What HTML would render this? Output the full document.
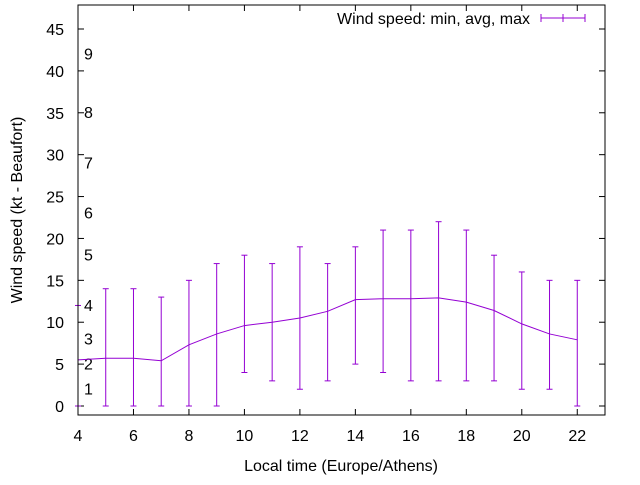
<!DOCTYPE html>
<html><head><meta charset="utf-8"><style>
body{margin:0;background:#fff;}
svg text{font-family:"Liberation Sans",sans-serif;font-size:16px;fill:#000;}
</style></head><body>
<svg id="chart" width="640" height="480">
<rect x="0" y="0" width="640" height="480" fill="#fff"/>
<g id="grid"></g>
<g id="marks"></g>
<rect x="78" y="5" width="527" height="410" fill="none" stroke="#000" stroke-width="1"/>
<text x="22" y="210" text-anchor="middle" transform="rotate(-90 22 210)">Wind speed (kt - Beaufort)</text>
<text x="341" y="471" text-anchor="middle">Local time (Europe/Athens)</text>
<g>
<text x="530" y="24" text-anchor="end">Wind speed: min, avg, max</text>
<line x1="541" y1="18" x2="585" y2="18" stroke="#9400d3"/>
<line x1="541" y1="14" x2="541" y2="22" stroke="#9400d3"/>
<line x1="585" y1="14" x2="585" y2="22" stroke="#9400d3"/>
<line x1="563" y1="14" x2="563" y2="22" stroke="#9400d3"/>
</g>
</svg>
<script>
const hours=[4,5,6,7,8,9,10,11,12,13,14,15,16,17,18,19,20,21,22];
const avgs=[5.5,5.7,5.7,5.4,7.3,8.6,9.6,10,10.5,11.3,12.7,12.8,12.8,12.9,12.4,11.4,9.8,8.6,7.9];
const mins=[0,0,0,0,0,0,4,3,2,3,5,4,3,3,3,3,2,2,0];
const maxs=[12,14,14,13,15,17,18,17,19,17,19,21,21,22,21,18,16,15,15];
const xTicks=[4,6,8,10,12,14,16,18,20,22];
const yTicks=[0,5,10,15,20,25,30,35,40,45];
const bftVals=[1,4,7,11,17,22,28,34,41];
const bftLabels=["1","2","3","4","5","6","7","8","9"];
const NS="http://www.w3.org/2000/svg";
const L=78,R=605,T=5,B=415;
function xs(v){return L+(v-4)*(R-L)/19;}
function ys(v){return 406-v*(406-29)/45;}
const g=document.getElementById('grid'),m=document.getElementById('marks');
function mk(p,tag,a){const e=document.createElementNS(NS,tag);for(const k in a)e.setAttribute(k,a[k]);p.appendChild(e);return e;}
xTicks.forEach(v=>{
 const x=xs(v);
 const t=mk(g,'line',{x1:x,y1:B,x2:x,y2:B-6,stroke:'#000'});
 
 
 const t2=mk(g,'line',{x1:x,y1:T,x2:x,y2:T+6,stroke:'#000'});
 
 
 const tx=mk(g,'text',{x:x,y:B+26,'text-anchor':'middle'});tx.textContent=v;
 
 
});
yTicks.forEach(v=>{
 const y=ys(v);
 const t=mk(g,'line',{x1:L,y1:y,x2:L+6,y2:y,stroke:'#000'});
 
 
 const t2=mk(g,'line',{x1:R,y1:y,x2:R-6,y2:y,stroke:'#000'});
 
 
 const tx=mk(g,'text',{x:L-14,y:y+6,'text-anchor':'end'});tx.textContent=v;
 
 
});
bftVals.forEach((v,i)=>{
 const y=ys(v);
 const tx=mk(g,'text',{x:L+6,y:y-3});tx.textContent=bftLabels[i];
 
 
});
const C='#9400d3';
hours.forEach((h,i)=>{
 const x=xs(h);
 const eb=mk(m,'g',{});
 
 
 mk(eb,'line',{x1:x,y1:ys(mins[i]),x2:x,y2:ys(maxs[i]),stroke:C});
 mk(eb,'line',{x1:x-3,y1:ys(mins[i]),x2:x+3,y2:ys(mins[i]),stroke:C});
 mk(eb,'line',{x1:x-3,y1:ys(maxs[i]),x2:x+3,y2:ys(maxs[i]),stroke:C});
});
const pts=hours.map((h,i)=>xs(h)+','+ys(avgs[i])).join(' ');
const pl=mk(m,'polyline',{points:pts,fill:'none',stroke:C});


</script>
</body></html>
